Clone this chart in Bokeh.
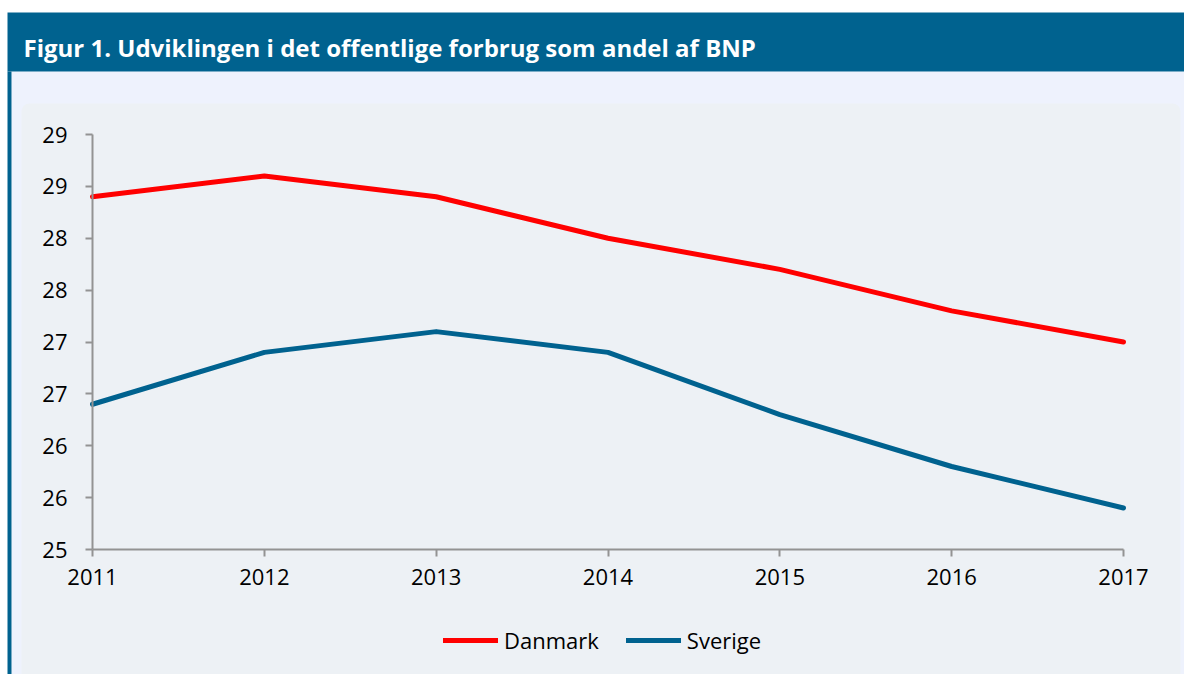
from bokeh.plotting import figure
from bokeh.models import (Range1d, FixedTicker, Legend, LegendItem, Label, LinearAxis,
                          BoxAnnotation)
from bokeh.embed import file_html
from bokeh.resources import INLINE

# ---- data ----
years = [2011, 2012, 2013, 2014, 2015, 2016, 2017]
x_tick_labels = ["2011", "2012", "2013", "2014", "2015", "2016", "2017"]
danmark = [28.4, 28.6, 28.4, 28.0, 27.7, 27.3, 27.0]
sverige = [26.4, 26.9, 27.1, 26.9, 26.3, 25.8, 25.4]
y_ticks = [25.0, 25.5, 26.0, 26.5, 27.0, 27.5, 28.0, 28.5, 29.0]
y_tick_labels = ["25", "26", "26", "27", "27", "28", "28", "29", "29"]
series_names = ["Danmark", "Sverige"]
title_text = "Figur 1. Udviklingen i det offentlige forbrug som andel af BNP"

# ---- styles / layout (picture pixels) ----
BLUE = "#00628F"
RED = "#FF0000"
STRIP = "#EEF2FD"
PANEL = "#EDF1F5"
AXIS = "#939393"
FONT = "Open Sans"
W, H = 1184, 674
X0, Y0 = 0, 0                 # canvas origin in the picture
PX_LEFT, PX_RIGHT = 92, 1123  # first / last year
PX_TOP, PX_BOTTOM = 134, 549  # top / bottom of value axis

x_per_px = (years[-1] - years[0]) / (PX_RIGHT - PX_LEFT)
y_per_px = (y_ticks[-1] - y_ticks[0]) / (PX_BOTTOM - PX_TOP)
x_start = years[0] - (PX_LEFT - X0) * x_per_px
y_end = y_ticks[-1] + (PX_TOP - Y0) * y_per_px

def dx(px):
    return x_start + (px - X0) * x_per_px

def dy(py):
    return y_end - (py - Y0) * y_per_px

p = figure(width=W, height=H, output_backend="svg", toolbar_location=None,
           x_axis_location=None, y_axis_location=None, min_border=0,
           x_range=Range1d(dx(X0), dx(X0 + W)), y_range=Range1d(dy(Y0 + H), dy(Y0)))
p.border_fill_color = "white"
p.background_fill_color = "white"
p.outline_line_color = None
p.grid.visible = False

# decorations
def box(**kw):
    return BoxAnnotation(fill_alpha=1, line_color=None, **kw)

p.add_layout(box(left=dx(7), top=dy(12), bottom=dy(71), fill_color=BLUE))
p.add_layout(box(left=dx(7), right=dx(11), top=dy(71), fill_color=BLUE))
p.add_layout(box(left=dx(11), top=dy(71), fill_color=STRIP, level="underlay"))
p.add_layout(box(left=dx(21), right=dx(1180), top=dy(103), fill_color=PANEL,
                 border_radius=(8, 8, 0, 0), level="underlay"))
p.add_layout(Label(x=dx(23), y=dy(46.7), text=title_text, text_color="white", text_font=FONT,
                   text_font_style="bold", text_font_size="24px", text_baseline="alphabetic"))

# series
r1 = p.line(years, danmark, line_color=RED, line_width=5, line_cap="round", line_join="round")
r2 = p.line(years, sverige, line_color=BLUE, line_width=5, line_cap="round", line_join="round")

# axes
xaxis = LinearAxis(fixed_location=y_ticks[0], bounds=(years[0], years[-1]),
                   ticker=FixedTicker(ticks=years),
                   major_label_overrides=dict(zip([float(y) for y in years], x_tick_labels)),
                   major_label_standoff=12)
yaxis = LinearAxis(fixed_location=years[0], bounds=(y_ticks[0], y_ticks[-1]),
                   ticker=FixedTicker(ticks=y_ticks),
                   major_label_overrides=dict(zip(y_ticks, y_tick_labels)),
                   major_label_standoff=18)
for ax in (xaxis, yaxis):
    ax.axis_line_color = AXIS
    ax.axis_line_width = 2
    ax.major_tick_line_color = AXIS
    ax.major_tick_line_width = 2
    ax.major_tick_out = 7
    ax.major_tick_in = 0
    ax.minor_tick_line_color = None
    ax.major_label_text_font = FONT
    ax.major_label_text_font_size = "22px"
    ax.major_label_text_color = "black"
p.add_layout(xaxis, "below")
p.add_layout(yaxis, "left")

legend = Legend(items=[LegendItem(label=series_names[0], renderers=[r1]),
                       LegendItem(label=series_names[1], renderers=[r2])],
                orientation="horizontal", location=(443 - X0, (Y0 + H) - 640 - 15),
                glyph_width=55, glyph_height=20, label_standoff=6, spacing=27,
                padding=0, margin=0,
                label_text_font=FONT, label_text_font_size="22px", label_text_color="black",
                background_fill_alpha=0, border_line_alpha=0)
p.add_layout(legend, "center")

open("out.html", "w").write(file_html(p, INLINE))
